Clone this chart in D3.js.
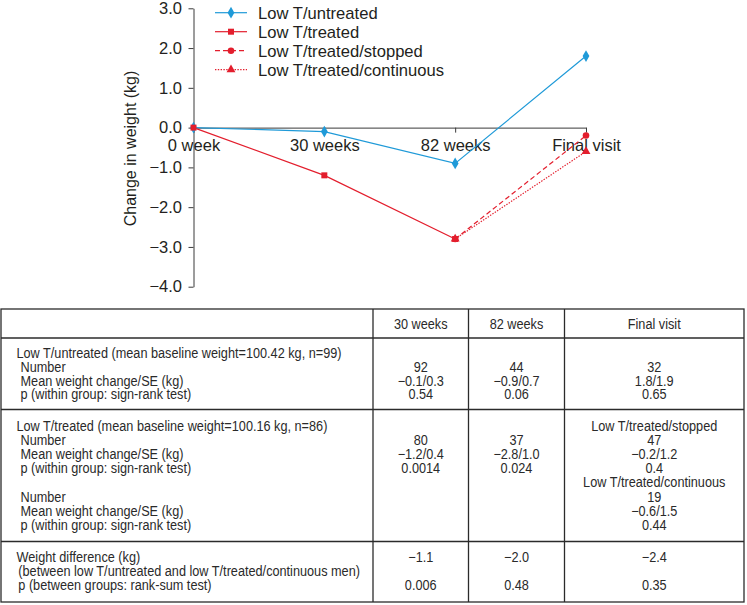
<!DOCTYPE html>
<html>
<head>
<meta charset="utf-8">
<script src="https://cdn.jsdelivr.net/npm/d3@7"></script>
<style>
  html, body { margin: 0; padding: 0; background: #fff; }
  svg { display: block; }
</style>
</head>
<body>
<script>
// ---------- chart data ----------
const categories = ["0 week", "30 weeks", "82 weeks", "Final visit"];
const untreated = [0, -0.1, -0.9, 1.8];
const treated = [0, -1.2, -2.8, null];
const stopped = [null, null, -2.8, -0.2];
const continuous = [null, null, -2.8, -0.6];
const yTicks = [3, 2, 1, 0, -1, -2, -3, -4];
const seriesNames = ["Low T/untreated", "Low T/treated", "Low T/treated/stopped", "Low T/treated/continuous"];
const yLabel = "Change in weight (kg)";

// ---------- table data ----------
const tableHeaders = ["30 weeks", "82 weeks", "Final visit"];
const untreatedLabels = ["Low T/untreated (mean baseline weight=100.42 kg, n=99)", "Number", "Mean weight change/SE (kg)", "p (within group: sign-rank test)"];
const untreatedNumber = ["92", "44", "32"];
const untreatedMean = ["−0.1/0.3", "−0.9/0.7", "1.8/1.9"];
const untreatedP = ["0.54", "0.06", "0.65"];
const treatedLabels = ["Low T/treated (mean baseline weight=100.16 kg, n=86)", "Number", "Mean weight change/SE (kg)", "p (within group: sign-rank test)", "", "Number", "Mean weight change/SE (kg)", "p (within group: sign-rank test)"];
const treatedNumber = ["80", "37", "47"];
const treatedMean = ["−1.2/0.4", "−2.8/1.0", "−0.2/1.2"];
const treatedP = ["0.0014", "0.024", "0.4"];
const stoppedTitle = "Low T/treated/stopped";
const continuousTitle = "Low T/treated/continuous";
const continuousNumber = "19";
const continuousMean = "−0.6/1.5";
const continuousP = "0.44";
const diffLabels = ["Weight difference (kg)", "(between low T/untreated and low T/treated/continuous men)", "p (between groups: rank-sum test)"];
const diffValues = ["−1.1", "−2.0", "−2.4"];
const diffP = ["0.006", "0.48", "0.35"];

// ---------- drawing ----------
const W = 747, H = 605;
const BLUE = "#1f9ad8", RED = "#e31e2d", INK = "#231f20";
const svg = d3.select("body").append("svg").attr("width", W).attr("height", H)
  .style("font-family", "'Liberation Sans', Arial, sans-serif");
svg.append("rect").attr("width", W).attr("height", H).attr("fill", "#fff");

const x = d3.scalePoint().domain(categories).range([193.5, 586]);
const y = d3.scaleLinear().domain([-4, 3]).range([286.7, 8.3]);
const fmt = d => (d < 0 ? "−" : "") + Math.abs(d).toFixed(1);

// x axis at y=0
const gx = svg.append("g").attr("transform", `translate(0,${y(0)})`)
  .call(d3.axisBottom(x).tickSize(5).tickSizeOuter(0).tickPadding(7));
// y axis
const gy = svg.append("g").attr("transform", `translate(${x(categories[0])},0)`)
  .call(d3.axisLeft(y).tickValues(yTicks).tickFormat(fmt).tickSize(5).tickSizeOuter(0).tickPadding(6.5));
[gx, gy].forEach(g => {
  g.selectAll("path, line").attr("stroke", "#3a3a3a").attr("stroke-width", 1);
  g.selectAll("text").attr("fill", INK).style("font-size", "16.5px")
    .style("font-family", "'Liberation Sans', Arial, sans-serif");
});

svg.append("text")
  .attr("transform", `translate(135.5,148.5) rotate(-90)`)
  .attr("text-anchor", "middle").attr("fill", INK).style("font-size", "16px")
  .text(yLabel);

const series = [
  { name: seriesNames[0], vals: untreated, color: BLUE, dash: null, sym: "diamond" },
  { name: seriesNames[1], vals: treated, color: RED, dash: null, sym: "square" },
  { name: seriesNames[2], vals: stopped, color: RED, dash: "5,3", sym: "circle" },
  { name: seriesNames[3], vals: continuous, color: RED, dash: "1.4,1.4", sym: "triangle" }
];
const symType = { diamond: d3.symbolDiamond, square: d3.symbolSquare, circle: d3.symbolCircle, triangle: d3.symbolTriangle };
const symSize = { diamond: 40, square: 36, circle: 34, triangle: 34 };

const line = d3.line().defined(d => d.v !== null).x(d => x(d.c)).y(d => y(d.v));
const toPts = s => s.vals.map((v, i) => ({ c: categories[i], v }));

// lines
series.forEach(s => {
  svg.append("path").datum(toPts(s)).attr("d", line)
    .attr("fill", "none").attr("stroke", s.color).attr("stroke-width", 1.2)
    .attr("stroke-dasharray", s.dash);
});
// markers: untreated first, then stopped/continuous, treated on top
[series[0], series[3], series[2], series[1]].forEach(s => {
  const pts = toPts(s).filter(d => d.v !== null);
  svg.append("g").selectAll("path").data(pts).join("path")
    .attr("transform", d => `translate(${x(d.c)},${y(d.v)})`)
    .attr("d", d3.symbol().type(symType[s.sym]).size(symSize[s.sym]))
    .attr("fill", s.color);
});

// legend
const leg = svg.append("g");
series.forEach((s, i) => {
  const ly = 12.7 + i * 19;
  leg.append("line").attr("x1", 215).attr("x2", 247).attr("y1", ly).attr("y2", ly)
    .attr("stroke", s.color).attr("stroke-width", 1.2).attr("stroke-dasharray", s.dash);
  leg.append("path").attr("transform", `translate(231,${ly})`)
    .attr("d", d3.symbol().type(symType[s.sym]).size(symSize[s.sym])).attr("fill", s.color);
  leg.append("text").attr("x", 258).attr("y", ly).attr("dy", "0.36em")
    .attr("fill", INK).style("font-size", "16.6px").text(s.name);
});

// ---------- table ----------
const tb = svg.append("g");
const tL = 1, tR = 744, cols = [373, 468.5, 564.5];
const rowLines = [309, 338, 409.5, 541.5, 602];
const colCenters = [(cols[0] + cols[1]) / 2, (cols[1] + cols[2]) / 2, (cols[2] + tR) / 2];
const LINE_C = "#2b2b2b";
tb.append("rect").attr("x", tL).attr("y", rowLines[0]).attr("width", tR - tL).attr("height", rowLines[4] - rowLines[0])
  .attr("fill", "none").attr("stroke", LINE_C).attr("stroke-width", 1.3);
rowLines.slice(1, 4).forEach(ry => tb.append("line").attr("x1", tL).attr("x2", tR).attr("y1", ry).attr("y2", ry)
  .attr("stroke", LINE_C).attr("stroke-width", 1.3));
cols.forEach(cx => tb.append("line").attr("x1", cx).attr("x2", cx).attr("y1", rowLines[0]).attr("y2", rowLines[4])
  .attr("stroke", LINE_C).attr("stroke-width", 1.3));

const lines = [];
lines.push({ y: 324, label: null, cells: tableHeaders });
const r1 = [353.3, 367, 380.6, 394.2];
lines.push({ y: r1[0], label: untreatedLabels[0], ix: 16.5, cells: [] });
lines.push({ y: r1[1], label: untreatedLabels[1], ix: 20.5, cells: untreatedNumber });
lines.push({ y: r1[2], label: untreatedLabels[2], ix: 20.5, cells: untreatedMean });
lines.push({ y: r1[3], label: untreatedLabels[3], ix: 20.5, cells: untreatedP });
const r2 = d3.range(8).map(i => 426 + i * 14.1);
lines.push({ y: r2[0], label: treatedLabels[0], ix: 16.5, cells: [null, null, stoppedTitle] });
lines.push({ y: r2[1], label: treatedLabels[1], ix: 20.5, cells: treatedNumber });
lines.push({ y: r2[2], label: treatedLabels[2], ix: 20.5, cells: treatedMean });
lines.push({ y: r2[3], label: treatedLabels[3], ix: 20.5, cells: treatedP });
lines.push({ y: r2[4], label: treatedLabels[4], ix: 20.5, cells: [null, null, continuousTitle] });
lines.push({ y: r2[5], label: treatedLabels[5], ix: 20.5, cells: [null, null, continuousNumber] });
lines.push({ y: r2[6], label: treatedLabels[6], ix: 20.5, cells: [null, null, continuousMean] });
lines.push({ y: r2[7], label: treatedLabels[7], ix: 20.5, cells: [null, null, continuousP] });
const r3 = [557, 571.2, 585.4];
lines.push({ y: r3[0], label: diffLabels[0], ix: 16.5, cells: diffValues });
lines.push({ y: r3[1], label: diffLabels[1], ix: 18.3, cells: [] });
lines.push({ y: r3[2], label: diffLabels[2], ix: 18.3, cells: diffP });

const texts = [];
let refText = null;
lines.forEach(l => {
  if (l.label) {
    const t = tb.append("text").attr("x", l.ix).attr("y", l.y).attr("dy", "0.36em").text(l.label);
    texts.push(t);
    if (l.label === untreatedLabels[0]) refText = t;
  }
  l.cells.forEach((c, i) => {
    if (c === null || c === undefined) return;
    texts.push(tb.append("text").attr("x", colCenters[i]).attr("y", l.y).attr("dy", "0.36em")
      .attr("text-anchor", "middle").text(c));
  });
});
texts.forEach(t => t.attr("fill", "#2a2a2a").style("font-size", "14px"));
// narrow the table typeface to match the condensed original
const refW = refText.node().getComputedTextLength();
const k = refW > 0 ? 325 / refW : 1;
const widths = texts.map(t => t.node().getComputedTextLength());
texts.forEach((t, i) => {
  if (widths[i] > 0) t.attr("textLength", widths[i] * k).attr("lengthAdjust", "spacingAndGlyphs");
});
</script>
</body>
</html>
